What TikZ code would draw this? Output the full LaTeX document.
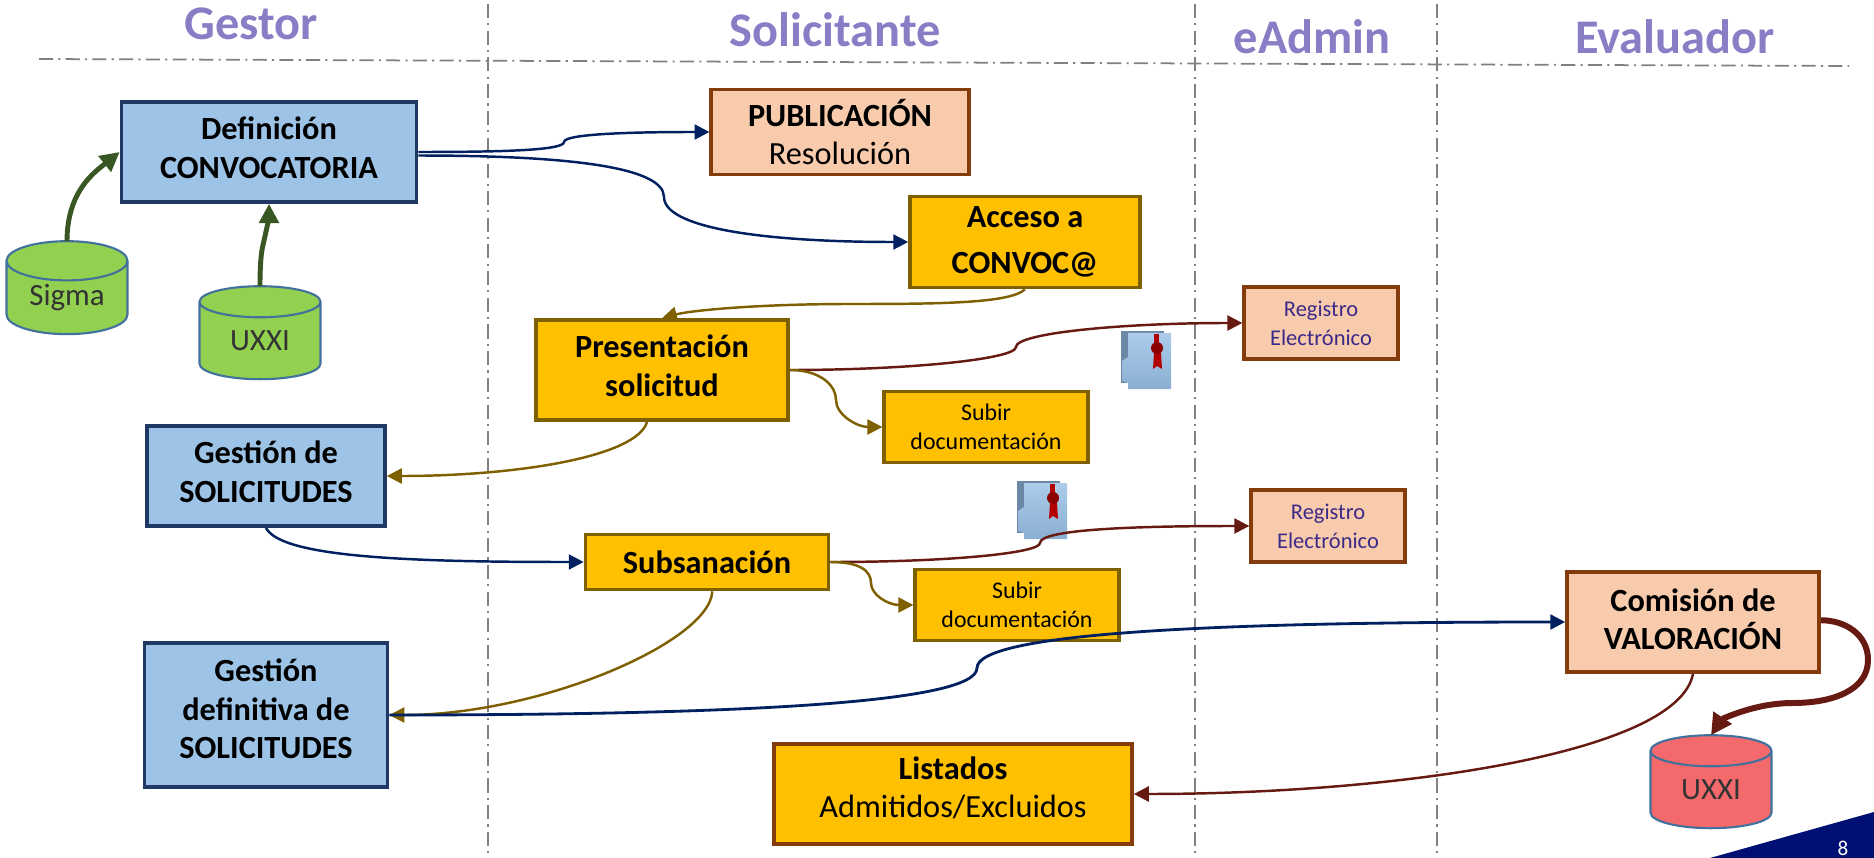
\documentclass[tikz,border=0pt]{standalone}
\usepackage{fontspec}
\setmainfont{Carlito}
\usetikzlibrary{arrows.meta,shapes.geometric}
\definecolor{bluefill}{HTML}{9DC3E6}
\definecolor{blueline}{HTML}{203864}
\definecolor{goldfill}{HTML}{FFC000}
\definecolor{goldline}{HTML}{7F6000}
\definecolor{peachfill}{HTML}{F8CBAD}
\definecolor{peachline}{HTML}{843C0C}
\definecolor{greenfill}{HTML}{92D050}
\definecolor{redfill}{HTML}{F4696B}
\definecolor{canline}{HTML}{41719C}
\definecolor{navyarrow}{HTML}{002060}
\definecolor{maroon}{HTML}{661A12}
\definecolor{forest}{HTML}{385723}
\definecolor{lilac}{HTML}{8B7CC6}
\definecolor{inkblue}{HTML}{3C2A88}
\definecolor{cornernavy}{HTML}{000F73}
\tikzset{
	basebox/.style={draw,line width=2.1pt,align=center,inner sep=0pt,
		font=\fontsize{18.4}{21.8}\selectfont},
	bluebox/.style={basebox,fill=bluefill,draw=blueline},
	goldbox/.style={basebox,fill=goldfill,draw=goldline},
	peachbox/.style={basebox,fill=peachfill,draw=peachline},
	smallgold/.style={goldbox,font=\fontsize{13.6}{16.2}\selectfont,line width=1.9pt},
	regbox/.style={peachbox,font=\fontsize{12.8}{16.5}\selectfont,text=inkblue,line width=1.9pt},
	can/.style={cylinder,shape border rotate=90,shape aspect=0.52,draw=canline,line width=1.2pt,
		cylinder uses custom fill,minimum width=2.42cm,minimum height=1.86cm,inner sep=0pt,
		outer sep=0pt,text=black!80,font=\fontsize{17.6}{20}\selectfont},
	title/.style={text=lilac,font=\fontsize{27.5}{30}\selectfont\bfseries,inner sep=0pt},
	divider/.style={color=black!50,line width=1pt,dash pattern=on 8pt off 3pt on 1.2pt off 3pt},
	bluearrow/.style={->,color=navyarrow,line width=1.4pt},
	goldarrow/.style={->,color=goldline,line width=1.4pt},
	redarrow/.style={->,color=maroon,line width=1.4pt},
	greenarrow/.style={->,color=forest,line width=2.8pt,>={Triangle[length=11pt,width=11pt]}},
	sealfile/.pic={
		\fill[color=black!20!bluefill!80!blueline] (0,0) rectangle (43,52);
		\shade[top color=bluefill!85!white,bottom color=bluefill!85!blueline]
			(7,2) -- (50,2) -- (50,58) -- (7,58) -- (7,52) -- (1,50) -- (1,30) -- (7,26) -- cycle;
		\fill[color=red!70!black] (33,3) rectangle (38,22);
		\fill[color=red!70!black] (33,22) -- (32,38) -- (36,35) -- (41,38) -- (40,22) -- cycle;
		\fill[color=red!55!black] (36,17) circle (6);
	}
}
\begin{document}
\begin{tikzpicture}[x=0.02cm,y=-0.02cm,>={Triangle[length=8.5pt,width=8.5pt]}]
\useasboundingbox (0,0) rectangle (1874,858);
\fill[color=cornernavy] (1710,858) -- (1874,812) -- (1874,858) -- cycle;
\node (pagenr) at (1843,848) [text=white,inner sep=0pt,font=\fontsize{12}{14}\selectfont] {8};

\foreach \x in {488,1195,1437}{
	\draw[divider] (\x,4) -- (\x,858);
}
\draw[divider] (39,59) -- (1849,66);
\node (gestor) at (251,24) [title] {Gestor};
\node (solicitante) at (835,30) [title] {Solicitante};
\node (eadmin) at (1312,37) [title] {eAdmin};
\node (evaluador) at (1675,37) [title] {Evaluador};

\node (def) at (269,152) [bluebox,minimum width=5.9cm,minimum height=2cm,text depth=4.8pt] {\textbf{Definición}\\\textbf{CONVOCATORIA}};
\node (pub) at (840,132) [peachbox,minimum width=5.15cm,minimum height=1.7cm] {\textbf{PUBLICACIÓN}\\Resolución};
\node (acc) at (1025,242) [goldbox,minimum width=4.6cm,minimum height=1.82cm] {\textbf{Acceso a}\\[4pt]\textbf{CONVOC@}};
\node (pre) at (662,370) [goldbox,minimum width=5.04cm,minimum height=2cm,text depth=4.8pt] {\textbf{Presentación}\\\textbf{solicitud}};
\node (sub1) at (986,427) [smallgold,minimum width=4.08cm,minimum height=1.42cm] {Subir\\documentación};
\node (reg1) at (1321,323) [regbox,minimum width=3.08cm,minimum height=1.44cm] {Registro\\Electrónico};
\node (ges) at (266,476) [bluebox,minimum width=4.76cm,minimum height=2cm,text depth=4.8pt] {\textbf{Gestión de}\\\textbf{SOLICITUDES}};
\node (sbs) at (707,562) [goldbox,minimum width=4.86cm,minimum height=1.1cm] {\textbf{Subsanación}};
\node (reg2) at (1328,526) [regbox,minimum width=3.08cm,minimum height=1.44cm] {Registro\\Electrónico};
\node (sub2) at (1017,605) [smallgold,minimum width=4.08cm,minimum height=1.42cm] {Subir\\documentación};
\node (com) at (1693,622) [peachbox,minimum width=5.04cm,minimum height=2cm,text depth=3.4pt] {\textbf{Comisión de}\\\textbf{VALORACIÓN}};
\node (ged) at (266,715) [bluebox,minimum width=4.86cm,minimum height=2.88cm,text depth=7pt] {\textbf{Gestión}\\\textbf{definitiva de}\\\textbf{SOLICITUDES}};
\node (lis) at (953,794) [goldbox,draw=peachline,minimum width=7.16cm,minimum height=2cm,text depth=8pt] {\textbf{Listados}\\Admitidos/Excluidos};

\node (sigma) at (67,298) [can,fill=greenfill,cylinder body fill=greenfill,cylinder end fill=greenfill] {Sigma};
\node (uxxig) at (260,341) [can,fill=greenfill,cylinder body fill=greenfill,cylinder end fill=greenfill] {UXXI};
\node (uxxir) at (1711,790) [can,fill=redfill,cylinder body fill=redfill,cylinder end fill=redfill] {UXXI};

\pic at (1121,331) {sealfile};
\pic at (1017,481) {sealfile};

\draw[bluearrow] (def.east) .. controls +(90,0) and +(0,8) .. (564,142)
	.. controls +(0,-8) and +(-80,0) .. (pub.west);
\draw[bluearrow] ([yshift=-2pt]def.east) .. controls +(150,0) and +(0,-30) .. (664,197)
	.. controls +(0,30) and +(-150,0) .. (acc.west);
\draw[greenarrow] (sigma.north) .. controls +(0,-50) and +(-25,20) .. (def.west);
\draw[greenarrow] (uxxig.north) .. controls +(0,-20) and +(-2,8) .. (263,245)
	.. controls +(2,-8) and +(0,12) .. (def.south);
\draw[goldarrow] (acc.south) .. controls +(-15,14) and +(90,0) .. (850,304)
	.. controls +(-90,0) and +(30,-8) .. (pre.north);
\draw[redarrow] (pre.east) .. controls +(120,0) and +(0,12) .. (1016,347)
	.. controls +(0,-14) and +(-120,0) .. (reg1.west);
\draw[goldarrow] (pre.east) .. controls +(30,0) and +(0,-15) .. (836,400)
	.. controls +(0,15) and +(-25,0) .. (sub1.west);
\draw[goldarrow] ([xshift=-8.5pt]pre.south) .. controls +(-10,35) and +(130,0) .. (ges.east);
\draw[bluearrow] (ges.south) .. controls +(15,30) and +(-170,0) .. (sbs.west);
\draw[redarrow] (sbs.east) .. controls +(120,0) and +(0,10) .. (1040,543)
	.. controls +(0,-14) and +(-110,0) .. (reg2.west);
\draw[goldarrow] (sbs.east) .. controls +(30,0) and +(0,-12) .. (871,583)
	.. controls +(0,12) and +(-25,0) .. (sub2.west);
\draw[goldarrow] ([xshift=3pt]sbs.south) .. controls +(-2,50) and +(152,0) .. (ged.east);
\draw[bluearrow,line width=1.6pt] (ged.east) .. controls +(350,0) and +(0,35) .. (977,668)
	.. controls +(0,-35) and +(-350,0) .. (com.west);
\draw[redarrow] (com.south) .. controls +(-15,80) and +(260,0) .. (lis.east);
\draw[redarrow,line width=3.4pt,>={Triangle[length=12pt,width=12pt]}] ([yshift=1pt]com.east) .. controls +(25,0) and +(0,-25) .. (1868,660)
	.. controls +(0,30) and +(40,0) .. (1793,703)
	.. controls +(-40,0) and +(10,-15) .. (uxxir.north);
\end{tikzpicture}
\end{document}
